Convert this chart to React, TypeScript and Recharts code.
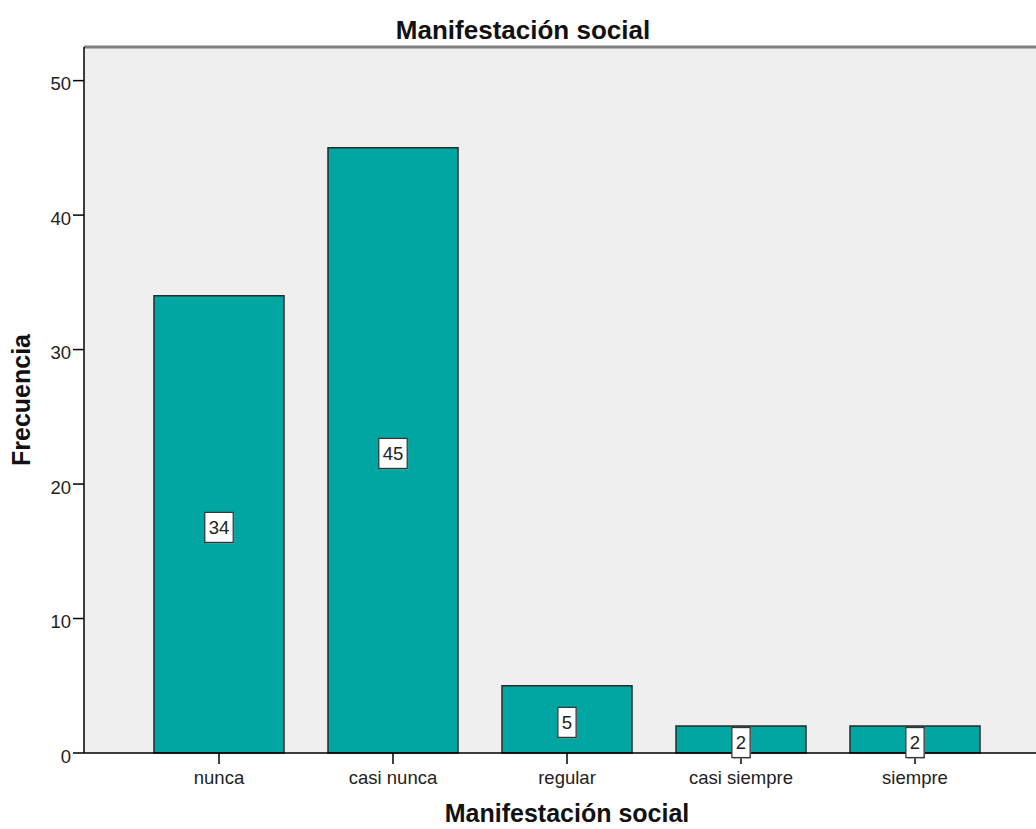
import React from 'react';
import { BarChart, Bar, XAxis, YAxis, CartesianGrid, ReferenceLine, LabelList, Label } from 'recharts';

const categories = ['nunca', 'casi nunca', 'regular', 'casi siempre', 'siempre'];
const frecuencias = [34, 45, 5, 2, 2];
const yTicks = [0, 10, 20, 30, 40, 50];

const data = categories.map((name, i) => ({ name, value: frecuencias[i] }));

const FONT = '"Liberation Sans", Arial, sans-serif';

const ValueBox = (props: any) => {
  const { x, y, width, height, value } = props;
  const cx = Number(x) + Number(width) / 2;
  const cy = Number(y) + Number(height) / 2 + 3;
  const w = String(value).length * 10.2 + 8;
  const h = 30;
  return (
    <g>
      <rect x={cx - w / 2 + 1} y={cy - h / 2 + 1} width={w} height={h} fill="#9a9a9a" />
      <rect x={cx - w / 2} y={cy - h / 2} width={w} height={h} fill="#fff" stroke="#333" strokeWidth={1.2} />
      <text x={cx} y={cy + 6.5} textAnchor="middle" fontSize={18.5} fontFamily={FONT} fill="#222">
        {value}
      </text>
    </g>
  );
};

const YTitle = (props: any) => {
  const { viewBox } = props;
  const cy = viewBox.y + viewBox.height / 2;
  const x = 30;
  return (
    <text
      x={x}
      y={cy}
      transform={`rotate(-90, ${x}, ${cy})`}
      textAnchor="middle"
      fontSize={25}
      fontWeight="bold"
      fontFamily={FONT}
      fill="#111"
    >
      Frecuencia
    </text>
  );
};

export default function App() {
  return (
    <div style={{ position: 'absolute', left: 0, top: 0, width: 1036, height: 829, overflow: 'hidden', background: '#fff' }}>
      <div
        style={{
          position: 'absolute',
          left: 0,
          top: 15,
          width: 1046,
          height: 30,
          lineHeight: '30px',
          textAlign: 'center',
          fontFamily: FONT,
          fontWeight: 'bold',
          fontSize: 26,
          color: '#111',
        }}
      >
        Manifestación social
      </div>
      <BarChart
        width={1070}
        height={829}
        data={data}
        margin={{ top: 47, right: 20, bottom: 0, left: 0 }}
        barCategoryGap={22}
      >
        <CartesianGrid horizontal={false} vertical={false} fill="#efefef" />
        <ReferenceLine y={52.5} stroke="#7f7f7f" strokeWidth={3} />
        <XAxis
          dataKey="name"
          height={76}
          padding={{ left: 48, right: 48 }}
          tickSize={11}
          tickMargin={7}
          axisLine={{ stroke: '#000', strokeWidth: 1.5 }}
          tickLine={{ stroke: '#000', strokeWidth: 1.5 }}
          tick={{ fontSize: 18.5, fill: '#222', fontFamily: FONT }}
          interval={0}
        >
          <Label
            value="Manifestación social"
            position="insideBottom"
            offset={7}
            style={{ fontSize: 25, fontWeight: 'bold', fontFamily: FONT, fill: '#111' }}
          />
        </XAxis>
        <YAxis
          width={84}
          domain={[0, 52.5]}
          ticks={yTicks}
          tickSize={11}
          tickMargin={2}
          axisLine={{ stroke: '#000', strokeWidth: 1.5 }}
          tickLine={{ stroke: '#000', strokeWidth: 1.5 }}
          tick={{ fontSize: 18.5, fill: '#222', fontFamily: FONT, dy: 3 }}
        >
          <Label content={<YTitle />} />
        </YAxis>
        <Bar dataKey="value" fill="#00a6a1" stroke="#2a2a2a" strokeWidth={1.5} isAnimationActive={false}>
          <LabelList dataKey="value" content={<ValueBox />} />
        </Bar>
      </BarChart>
    </div>
  );
}
